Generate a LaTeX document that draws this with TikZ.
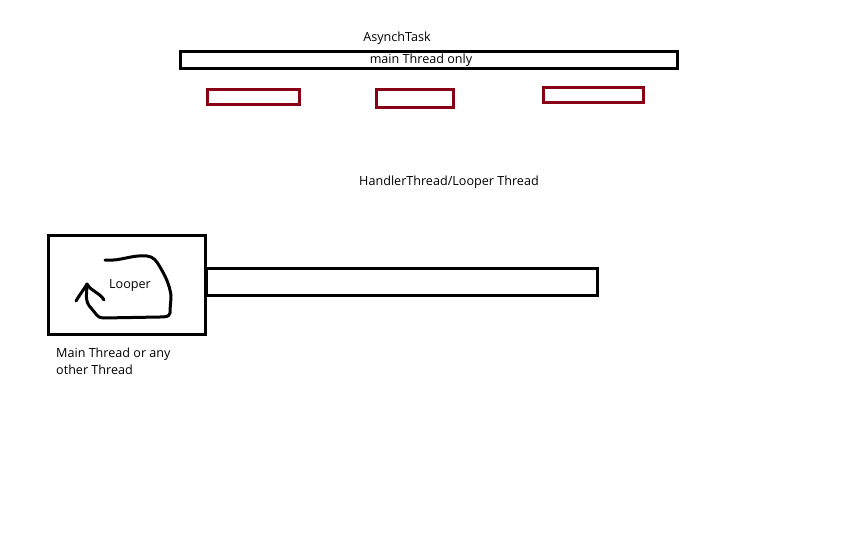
\documentclass[tikz,border=0pt]{standalone}
\usepackage{fontspec}
\setmainfont{Open Sans}
\definecolor{paintred}{RGB}{136,0,21}
\tikzset{x=1pt,y=-1pt,
    thread/.style={draw=black,line width=3pt,minimum height=17pt},
    task/.style={draw=paintred,line width=3pt,minimum height=15pt},
    caption/.style={font=\fontsize{12.6}{17}\selectfont,inner sep=0pt},
    }

\begin{document}
\begin{tikzpicture}
	\useasboundingbox (0,0) rectangle (864,540);
	% AsynchTask part
	\node[caption] (asynch) at (397,38) {AsynchTask};
	\node[thread,minimum width=497pt] (mainbar) at (429,60) {};
	\node[caption] (mainlbl) at (421,60.5) {main Thread only};
	\node[task,minimum width=92pt] (taskA) at (253,97) {};
	\node[task,minimum width=77pt,minimum height=18pt] (taskB) at (415,98.5) {};
	\node[task,minimum width=100pt] (taskC) at (593.5,95.5) {};
	% HandlerThread part
	\node[caption] (handler) at (449,182) {HandlerThread/Looper Thread};
	\node[thread,minimum width=157pt,minimum height=99pt] (threadbox) at (127,285) {};
	\node[thread,minimum width=391pt,minimum height=27pt] (queue) at (402,282) {};
	\node[caption] (looper) at (130,286) {Looper};
	\node[caption,align=left,anchor=north west] (owner) at (56,348) {Main Thread or any\\other Thread};
	% the hand-drawn loop
	\draw[line width=3pt,line cap=round,line join=round]
		(105,260) to[out=-5,in=175] (147,256)
		to[out=-5,in=120] (160,267)
		to[out=-60,in=100] (171,295)
		to[out=-90,in=90] (170,313)
		to[out=-100,in=0] (160,317)
		-- (103,318)
		to[out=180,in=-45] (91,308)
		to[out=135,in=-90] (87,284);
	\draw[line width=3pt,line cap=round,line join=round]
		(76,301) to[out=60,in=-120] (87,284) to[out=-60,in=120] (104,300);
\end{tikzpicture}
\end{document}
